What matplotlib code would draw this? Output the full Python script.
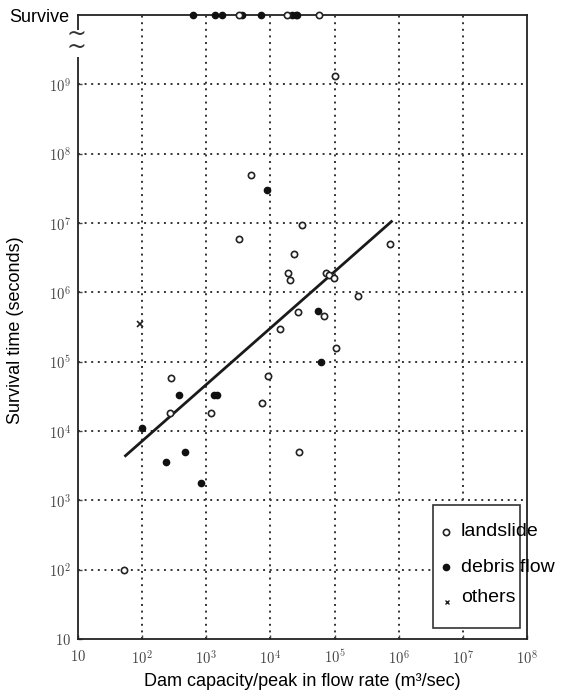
import matplotlib
matplotlib.use("Agg")
import matplotlib.pyplot as plt
from matplotlib.patches import Rectangle

plt.rcParams['font.family'] = ['Liberation Sans', 'DejaVu Sans']
plt.rcParams['mathtext.fontset'] = 'cm'

# landslide dams (open circles)
land_x = [53, 280, 270, 1170, 4900, 3.1e4, 3200, 2.3e4, 1.9e4, 2.0e4, 7.4e4, 8.2e4,
          9.7e4, 7.4e5, 2.3e5, 2.7e4, 6.8e4, 1.4e4, 1.07e5, 9100, 7300, 2.8e4, 1.0e5]
land_y = [100, 5.8e4, 1.8e4, 1.8e4, 5.0e7, 9.5e6, 5.8e6, 3.6e6, 1.9e6, 1.5e6, 1.9e6, 1.8e6,
          1.6e6, 5.0e6, 8.8e5, 5.2e5, 4.6e5, 3.0e5, 1.6e5, 6.2e4, 2.5e4, 5000, 1.3e9]

# debris flow dams (filled circles)
debris_x = [8900, 5.5e4, 6.2e4, 1300, 1450, 370, 100, 233, 470, 840]
debris_y = [3.0e7, 5.3e5, 1.0e5, 3.3e4, 3.3e4, 3.3e4, 1.1e4, 3550, 5000, 1800]

# others
other_x = [92]
other_y = [3.5e5]

# dams that survived (drawn on the top edge)
survive_land_x = [3200, 1.8e4, 5.8e4]
survive_debris_x = [620, 1380, 1780, 3650, 7200, 2.2e4, 2.5e4, 2.6e4]
survive_level = 1e10

# regression line end points
fit_x = [55, 7.7e5]
fit_y = [4.4e3, 1.05e7]

fig = plt.figure(figsize=(5.63, 6.94), dpi=100)
ax = fig.add_axes([78 / 563, 1 - 639 / 694, 449 / 563, 624 / 694])
ax.set_xscale('log')
ax.set_yscale('log')
ax.set_xlim(10, 1e8)
ax.set_ylim(10, 1e10)

grid_kw = dict(color='#333333', lw=1.4, linestyle=(0, (1.0, 2.4)), zorder=1)
for v in [1e2, 1e3, 1e4, 1e5, 1e6, 1e7]:
    ax.axvline(v, **grid_kw)
for v in [1e2, 1e3, 1e4, 1e5, 1e6, 1e7, 1e8, 1e9]:
    ax.axhline(v, **grid_kw)

ax.plot(fit_x, fit_y, color='#1a1a1a', lw=2, zorder=3)

ax.plot(land_x, land_y, 'o', ms=4.5, mfc='white', mec='#222222', mew=1.2, zorder=4)
ax.plot(debris_x, debris_y, 'o', ms=4.5, color='#111111', zorder=4)
ax.plot(other_x, other_y, 'x', ms=4, color='#222222', mew=1.2, zorder=4)

ax.plot(survive_debris_x, [survive_level] * len(survive_debris_x), 'o', ms=4.5,
        color='#111111', clip_on=False, zorder=5)
ax.plot(survive_land_x, [survive_level] * len(survive_land_x), 'o', ms=4.5,
        mfc='white', mec='#222222', mew=1.2, clip_on=False, zorder=5)

for s in ax.spines.values():
    s.set_linewidth(1.3)
    s.set_color('#222222')

xt = [10, 1e2, 1e3, 1e4, 1e5, 1e6, 1e7, 1e8]
xl = ['$10$'] + [r'$10^{%d}$' % i for i in range(2, 9)]
ax.set_xticks(xt)
ax.set_xticklabels(xl)
yt = [10, 1e2, 1e3, 1e4, 1e5, 1e6, 1e7, 1e8, 1e9]
yl = ['$10$'] + [r'$10^{%d}$' % i for i in range(2, 10)]
ax.set_yticks(yt)
ax.set_yticklabels(yl)
ax.minorticks_off()
ax.tick_params(direction='in', length=3, width=1, labelsize=10.5, colors='#444444')
ax.tick_params(axis='x', pad=7)
ax.tick_params(axis='y', pad=5)

ax.set_xlabel('Dam capacity/peak in flow rate (m³/sec)', fontsize=13)
ax.xaxis.set_label_coords(0.5, -34 / 624)
ax.set_ylabel('Survival time (seconds)', fontsize=13)
ax.yaxis.set_label_coords(-54 / 449, 0.495)

# axis break on the left spine and the "Survive" label
fig.add_artist(Rectangle((70 / 563, 1 - 57 / 694), 14 / 563, 27 / 694,
                         transform=fig.transFigure, facecolor='white', edgecolor='none', zorder=3))
fig.text(76 / 563, 1 - 40 / 694, '~\n~', fontsize=17, ha='center', va='center',
         linespacing=0.45, color='#333333', zorder=4, family='DejaVu Sans')
fig.text(9 / 563, 1 - 17 / 694, 'Survive', fontsize=13, ha='left', va='center')

# legend box drawn by hand (text runs past the frame as in the original)
fig.add_artist(Rectangle((433 / 563, 1 - 628 / 694), 87 / 563, 123 / 694,
                         transform=fig.transFigure, facecolor='white', edgecolor='#333333',
                         lw=1.2, zorder=3))
leg_y = [532, 567, 597]
leg_lbl = ['landslide', 'debris flow', 'others']
for yy, lbl in zip(leg_y, leg_lbl):
    fig.text(461 / 563, 1 - yy / 694, lbl, fontsize=14, ha='left', va='center', zorder=5)
fig.lines.append(plt.Line2D([446 / 563], [1 - 532 / 694], marker='o', ms=4.5, mfc='white',
                            mec='#222222', mew=1.2, transform=fig.transFigure, zorder=5))
fig.lines.append(plt.Line2D([446 / 563], [1 - 567 / 694], marker='o', ms=4.5,
                            color='#111111', transform=fig.transFigure, zorder=5))
fig.lines.append(plt.Line2D([447 / 563], [1 - 602 / 694], marker='x', ms=3,
                            color='#222222', mew=1, transform=fig.transFigure, zorder=5))

fig.savefig('out.png', dpi=100)
